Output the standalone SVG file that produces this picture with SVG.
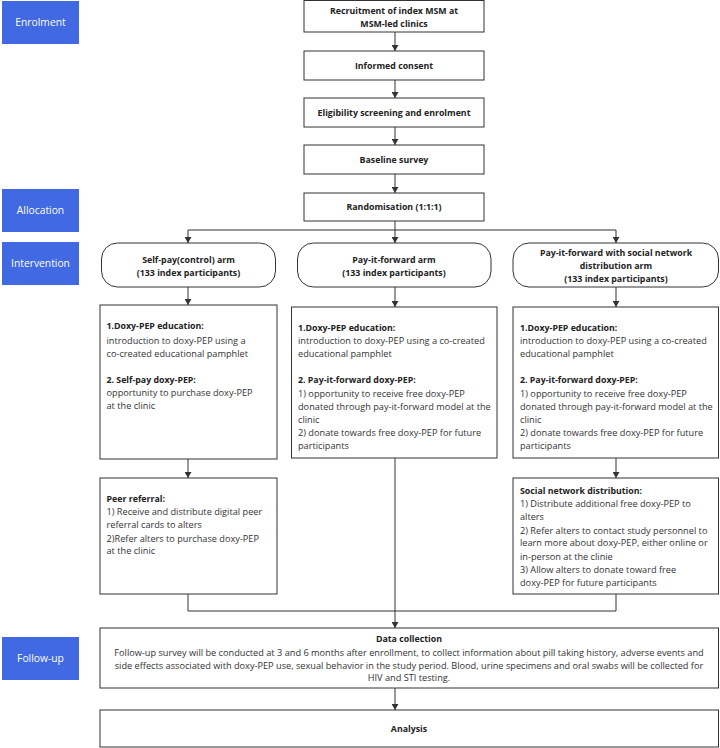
<svg xmlns="http://www.w3.org/2000/svg" width="720" height="748" viewBox="0 0 720 748">
<style>
text{font-family:"Open Sans","Noto Sans","Liberation Sans",sans-serif;fill:#222}
.lab rect{fill:#4169E1}
.lab text{fill:#fff;font-size:10.3px;text-anchor:middle}
.box{fill:#fff;stroke:#333;stroke-width:1}
.b{font-weight:bold;font-size:8.8px}
.c{text-anchor:middle}
.n{font-size:9.2px;fill:#333}
.con{fill:none;stroke:#333;stroke-width:1}
</style>
<defs>
<marker id="ah" markerWidth="6" markerHeight="7" refX="6" refY="3.5" orient="auto" markerUnits="userSpaceOnUse">
<path d="M0,0 L6,3.5 L0,7 Z" fill="#333"/>
</marker>
</defs>
<rect width="720" height="748" fill="#fff"/>
<g class="lab" id="lab-enrolment"><rect x="2" y="1" width="77" height="43"/><text x="40.5" y="26">Enrolment</text></g>
<g class="lab" id="lab-allocation"><rect x="2" y="189" width="77" height="43"/><text x="40.5" y="214">Allocation</text></g>
<g class="lab" id="lab-intervention"><rect x="2" y="242" width="77" height="43"/><text x="40.5" y="267">Intervention</text></g>
<g class="lab" id="lab-followup"><rect x="2" y="637" width="77" height="43"/><text x="40.5" y="662">Follow-up</text></g>

<g id="connectors" class="con">
<path d="M395,32 V51" marker-end="url(#ah)"/>
<path d="M395,80 V98" marker-end="url(#ah)"/>
<path d="M395,127 V145" marker-end="url(#ah)"/>
<path d="M395,174 V193" marker-end="url(#ah)"/>
<path d="M395,221 V243" marker-end="url(#ah)"/>
<path d="M188,230 H616"/>
<path d="M188,230 V243" marker-end="url(#ah)"/>
<path d="M616,230 V243" marker-end="url(#ah)"/>
<path d="M188,287 V305" marker-end="url(#ah)"/>
<path d="M395,287 V307" marker-end="url(#ah)"/>
<path d="M616,287 V307" marker-end="url(#ah)"/>
<path d="M188,459 V478" marker-end="url(#ah)"/>
<path d="M616,458 V478" marker-end="url(#ah)"/>
<path d="M395,458 V628" marker-end="url(#ah)"/>
<path d="M188,594 V611 H616 V594"/>
<path d="M395,688 V710" marker-end="url(#ah)"/>
</g>

<g id="recruitment"><rect class="box" x="304" y="0.5" width="180" height="31.5"/>
<text class="b c" x="394" y="14">Recruitment of index MSM at</text>
<text class="b c" x="394" y="27">MSM-led clinics</text></g>
<g id="consent"><rect class="box" x="304" y="51" width="180" height="29"/>
<text class="b c" x="394" y="68.5">Informed consent</text></g>
<g id="eligibility"><rect class="box" x="304" y="98" width="180" height="29"/>
<text class="b c" x="394" y="115.5">Eligibility screening and enrolment</text></g>
<g id="baseline"><rect class="box" x="304" y="145" width="180" height="29"/>
<text class="b c" x="394" y="162.5">Baseline survey</text></g>
<g id="randomisation"><rect class="box" x="304" y="193" width="180" height="28"/>
<text class="b c" x="394" y="210">Randomisation (1:1:1)</text></g>

<g id="arm-selfpay"><rect class="box" x="101.5" y="243" width="174" height="44" rx="16"/>
<text class="b c" x="188.5" y="263">Self-pay(control) arm</text>
<text class="b c" x="188.5" y="275.5">(133 index participants)</text></g>
<g id="arm-pif"><rect class="box" x="297.5" y="243" width="193.5" height="44" rx="16"/>
<text class="b c" x="394" y="263">Pay-it-forward arm</text>
<text class="b c" x="394" y="275.5">(133 index participants)</text></g>
<g id="arm-social"><rect class="box" x="513" y="243" width="205.5" height="44" rx="16"/>
<text class="b c" x="616" y="256">Pay-it-forward with social network</text>
<text class="b c" x="616" y="268.5">distribution arm</text>
<text class="b c" x="616" y="281.5">(133 index participants)</text></g>

<g id="int-selfpay"><rect class="box" x="100" y="305" width="177" height="154"/>
<text class="b" x="106.5" y="329">1.Doxy-PEP education:</text>
<text class="n" x="106.5" y="344">introduction to doxy-PEP using a</text>
<text class="n" x="106.5" y="357">co-created educational pamphlet</text>
<text class="b" x="106.5" y="383">2. Self-pay doxy-PEP:</text>
<text class="n" x="106.5" y="396">opportunity to purchase doxy-PEP</text>
<text class="n" x="106.5" y="409">at the clinic</text></g>
<g id="int-pif"><rect class="box" x="291.5" y="307" width="205.5" height="151"/>
<text class="b" x="298" y="331">1.Doxy-PEP education:</text>
<text class="n" x="298" y="344">introduction to doxy-PEP using a co-created</text>
<text class="n" x="298" y="357">educational pamphlet</text>
<text class="b" x="298" y="383">2. Pay-it-forward doxy-PEP:</text>
<text class="n" x="298" y="397">1) opportunity to receive free doxy-PEP</text>
<text class="n" x="298" y="410">donated through pay-it-forward model at the</text>
<text class="n" x="298" y="423">clinic</text>
<text class="n" x="298" y="436">2) donate towards free doxy-PEP for future</text>
<text class="n" x="298" y="449">participants</text></g>
<g id="int-social"><rect class="box" x="513" y="307" width="205.5" height="151"/>
<text class="b" x="520" y="331">1.Doxy-PEP education:</text>
<text class="n" x="520" y="344">introduction to doxy-PEP using a co-created</text>
<text class="n" x="520" y="357">educational pamphlet</text>
<text class="b" x="520" y="383">2. Pay-it-forward doxy-PEP:</text>
<text class="n" x="520" y="397">1) opportunity to receive free doxy-PEP</text>
<text class="n" x="520" y="410">donated through pay-it-forward model at the</text>
<text class="n" x="520" y="423">clinic</text>
<text class="n" x="520" y="436">2) donate towards free doxy-PEP for future</text>
<text class="n" x="520" y="449">participants</text></g>

<g id="peer"><rect class="box" x="100" y="478" width="177" height="116"/>
<text class="b" x="106.5" y="502">Peer referral:</text>
<text class="n" x="106.5" y="515">1) Receive and distribute digital peer</text>
<text class="n" x="106.5" y="528">referral cards to alters</text>
<text class="n" x="106.5" y="542">2)Refer alters to purchase doxy-PEP</text>
<text class="n" x="106.5" y="554">at the clinic</text></g>
<g id="social"><rect class="box" x="513" y="478" width="205.5" height="116"/>
<text class="b" x="520" y="494">Social network distribution:</text>
<text class="n" x="520" y="507">1) Distribute additional free doxy-PEP to</text>
<text class="n" x="520" y="520">alters</text>
<text class="n" x="520" y="534">2) Refer alters to contact study personnel to</text>
<text class="n" x="520" y="546">learn more about doxy-PEP, either online or</text>
<text class="n" x="520" y="560">in-person at the clinie</text>
<text class="n" x="520" y="573">3) Allow alters to donate toward free</text>
<text class="n" x="520" y="586">doxy-PEP for future participants</text></g>

<g id="data"><rect class="box" x="100" y="628" width="618.5" height="60"/>
<text class="b c" x="409" y="642">Data collection</text>
<text class="n c" x="409" y="655.5">Follow-up survey will be conducted at 3 and 6 months after enrollment, to collect information about pill taking history, adverse events and</text>
<text class="n c" x="409" y="668.5">side effects associated with doxy-PEP use, sexual behavior in the study period. Blood, urine specimens and oral swabs will be collected for</text>
<text class="n c" x="409" y="681">HIV and STI testing.</text></g>
<g id="analysis"><rect class="box" x="100" y="710" width="618.5" height="37"/>
<text class="b c" x="409" y="732">Analysis</text></g>
</svg>
